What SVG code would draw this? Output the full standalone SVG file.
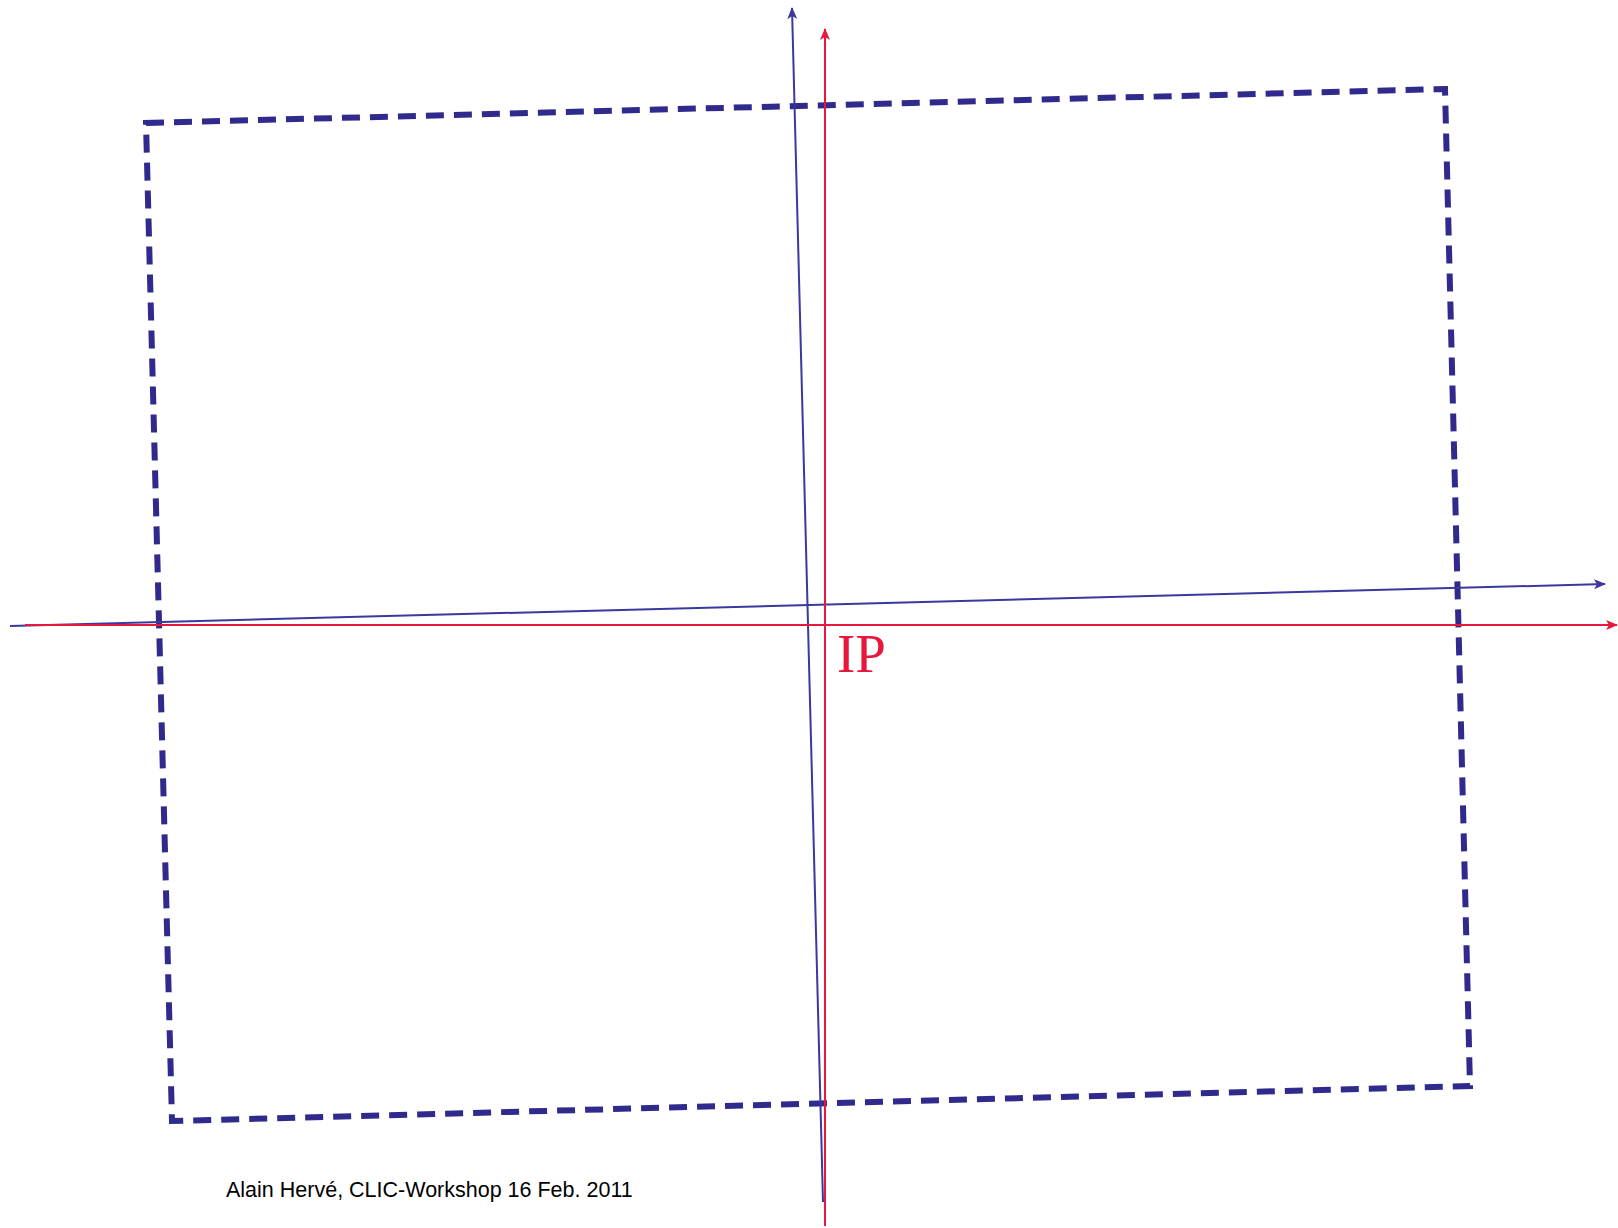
<svg xmlns="http://www.w3.org/2000/svg" width="1618" height="1228" viewBox="0 0 1618 1228">
<style>
.frame{fill:none;stroke:#2f2a8c;stroke-width:6;stroke-dasharray:18 10;}
.blue{stroke:#3b38a0;stroke-width:2;fill:none;}
.red{stroke:#e8173c;stroke-width:2;fill:none;}
.ip{font-family:"Liberation Serif",serif;font-size:55px;fill:#e8173c;}
.cap{font-family:"Liberation Sans",Arial,sans-serif;font-size:21.5px;fill:#000;}
</style>
<defs>
<marker id="ab" viewBox="0 0 12 10" refX="11" refY="5" markerWidth="12" markerHeight="10" markerUnits="userSpaceOnUse" orient="auto">
<path d="M0,0 L12,5 L0,10 L3,5 Z" fill="#3b38a0"/>
</marker>
<marker id="ar" viewBox="0 0 12 10" refX="11" refY="5" markerWidth="12" markerHeight="10" markerUnits="userSpaceOnUse" orient="auto">
<path d="M0,0 L12,5 L0,10 L3,5 Z" fill="#e8173c"/>
</marker>
</defs>
<rect width="1618" height="1228" fill="#fff"/>
<g id="frame">
<polygon class="frame" points="146,123 1445,89 1470,1086 172,1121"/>
</g>
<g id="connectors">
<line class="blue" x1="10" y1="626" x2="1605" y2="584" marker-end="url(#ab)"/>
<line class="blue" x1="823" y1="1202" x2="792" y2="8" marker-end="url(#ab)"/>
<line class="red" x1="25" y1="625" x2="1617" y2="625" marker-end="url(#ar)"/>
<line class="red" x1="825" y1="1226" x2="825" y2="29" marker-end="url(#ar)"/>
</g>
<g id="ip-label">
<text class="ip" x="837" y="672">IP</text>
</g>
<g id="caption">
<text class="cap" x="226" y="1197">Alain Hervé, CLIC-Workshop 16 Feb. 2011</text>
</g>
</svg>
